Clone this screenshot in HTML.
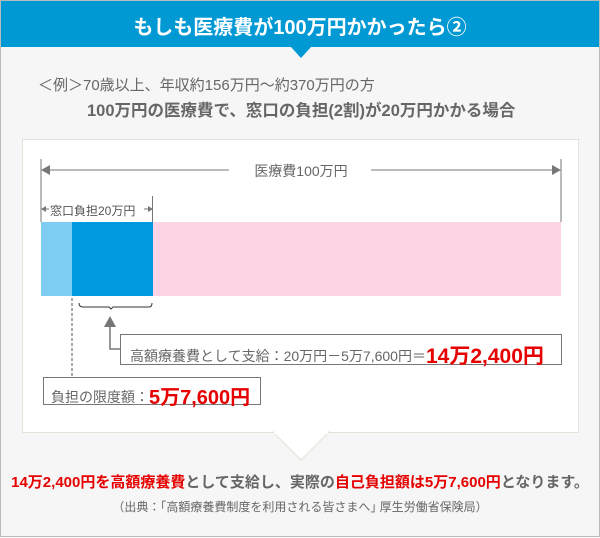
<!DOCTYPE html>
<html><head><meta charset="utf-8"><style>
*{margin:0;padding:0;box-sizing:border-box}
body{width:600px;height:537px;background:#fff;font-family:"Liberation Sans","Noto Sans CJK JP",sans-serif;overflow:hidden}
#o{position:absolute;left:0;top:0;width:600px;height:537px;border:1px solid #bbb;background:#f6f6f6}
.a{position:absolute;white-space:nowrap}
</style></head><body><div id="o">
<div class="a" style="left:0;top:0;width:598px;height:46px;background:#0099d4"></div>
<div class="a" style="left:290px;top:46px;width:0;height:0;border-left:10px solid transparent;border-right:10px solid transparent;border-top:11px solid #0099d4"></div>
<div class="a" style="left:0;top:10px;width:598px;text-align:center;color:#fff;font-size:20px;font-weight:bold">もしも医療費が100万円かかったら②</div>
<div class="a" style="left:37px;top:73px;color:#666;font-size:15px">＜例＞70歳以上、年収約156万円～約370万円の方</div>
<div class="a" style="left:86px;top:96px;color:#666;font-size:16.5px;font-weight:bold">100万円の医療費で、窓口の負担(2割)が20万円かかる場合</div>
<div class="a" style="left:21px;top:138px;width:557px;height:294px;background:#fff;border:1px solid #e6e2da"></div>
<svg class="a" style="left:0;top:0" width="600" height="537">
<polygon points="272,431 328,431 300,459" fill="#fff" stroke="#e6e2da"/>
<rect x="273" y="429" width="54" height="4" fill="#fff"/>
<line x1="40" y1="158" x2="40" y2="221" stroke="#777"/>
<line x1="560" y1="158" x2="560" y2="221" stroke="#777"/>
<line x1="44" y1="169" x2="228" y2="169" stroke="#777"/>
<line x1="370" y1="169" x2="556" y2="169" stroke="#777"/>
<polygon points="40,169 49,164 49,174" fill="#777"/><polygon points="560,169 551,164 551,174" fill="#777"/>
<line x1="41" y1="208" x2="48" y2="208" stroke="#777"/><line x1="143" y1="208" x2="151" y2="208" stroke="#777"/>
<polygon points="40,208 45,205 45,211" fill="#777"/><polygon points="152,208 147,205 147,211" fill="#777"/>
<line x1="151.5" y1="195" x2="151.5" y2="221" stroke="#777"/>
<rect x="40" y="221" width="31" height="74" fill="#7fcdf1"/>
<rect x="71" y="221" width="81" height="74" fill="#0099e0"/>
<rect x="152" y="221" width="408" height="74" fill="#fdd3e6"/>
<path d="M78,302 Q78,306 82,306 L108,306 L110,308 L112,306 L148,306 Q151,306 151,302" fill="none" stroke="#333"/>
<polygon points="109,315 103,326 115,326" fill="#777"/>
<path d="M109,325 V348 H119" fill="none" stroke="#777" stroke-width="1.5"/>
<line x1="71" y1="297" x2="71" y2="385" stroke="#555" stroke-dasharray="3,2"/>
<rect x="119.5" y="333.5" width="441" height="30" fill="#fff" stroke="#777"/>
<rect x="42.5" y="376.5" width="217" height="27" fill="#fff" stroke="#777"/>
</svg>
<div class="a" style="left:40px;top:160px;width:520px;text-align:center;color:#666;font-size:14px">医療費100万円</div>
<div class="a" style="left:49px;top:201px;color:#555;font-size:12px">窓口負担20万円</div>
<div class="a" style="left:129px;top:339px;color:#666;font-size:14px">高額療養費として支給：20万円－5万7,600円＝<span style="color:#e60000;font-size:21px;font-weight:bold;vertical-align:-2px">14万2,400円</span></div>
<div class="a" style="left:50px;top:380px;color:#666;font-size:14px">負担の限度額：<span style="color:#e60000;font-size:20px;font-weight:bold;vertical-align:-2px">5万7,600円</span></div>
<div class="a" style="left:0;top:470px;width:598px;text-align:center;font-size:15px;font-weight:bold;color:#666"><span style="color:#e60000">14万2,400円を高額療養費</span>として支給し、実際の<span style="color:#e60000">自己負担額は5万7,600円</span>となります。</div>
<div class="a" style="left:0;top:497px;width:598px;text-align:center;font-size:12px;color:#666">（出典：｢高額療養費制度を利用される皆さまへ｣ 厚生労働省保険局）</div>
</div></body></html>
